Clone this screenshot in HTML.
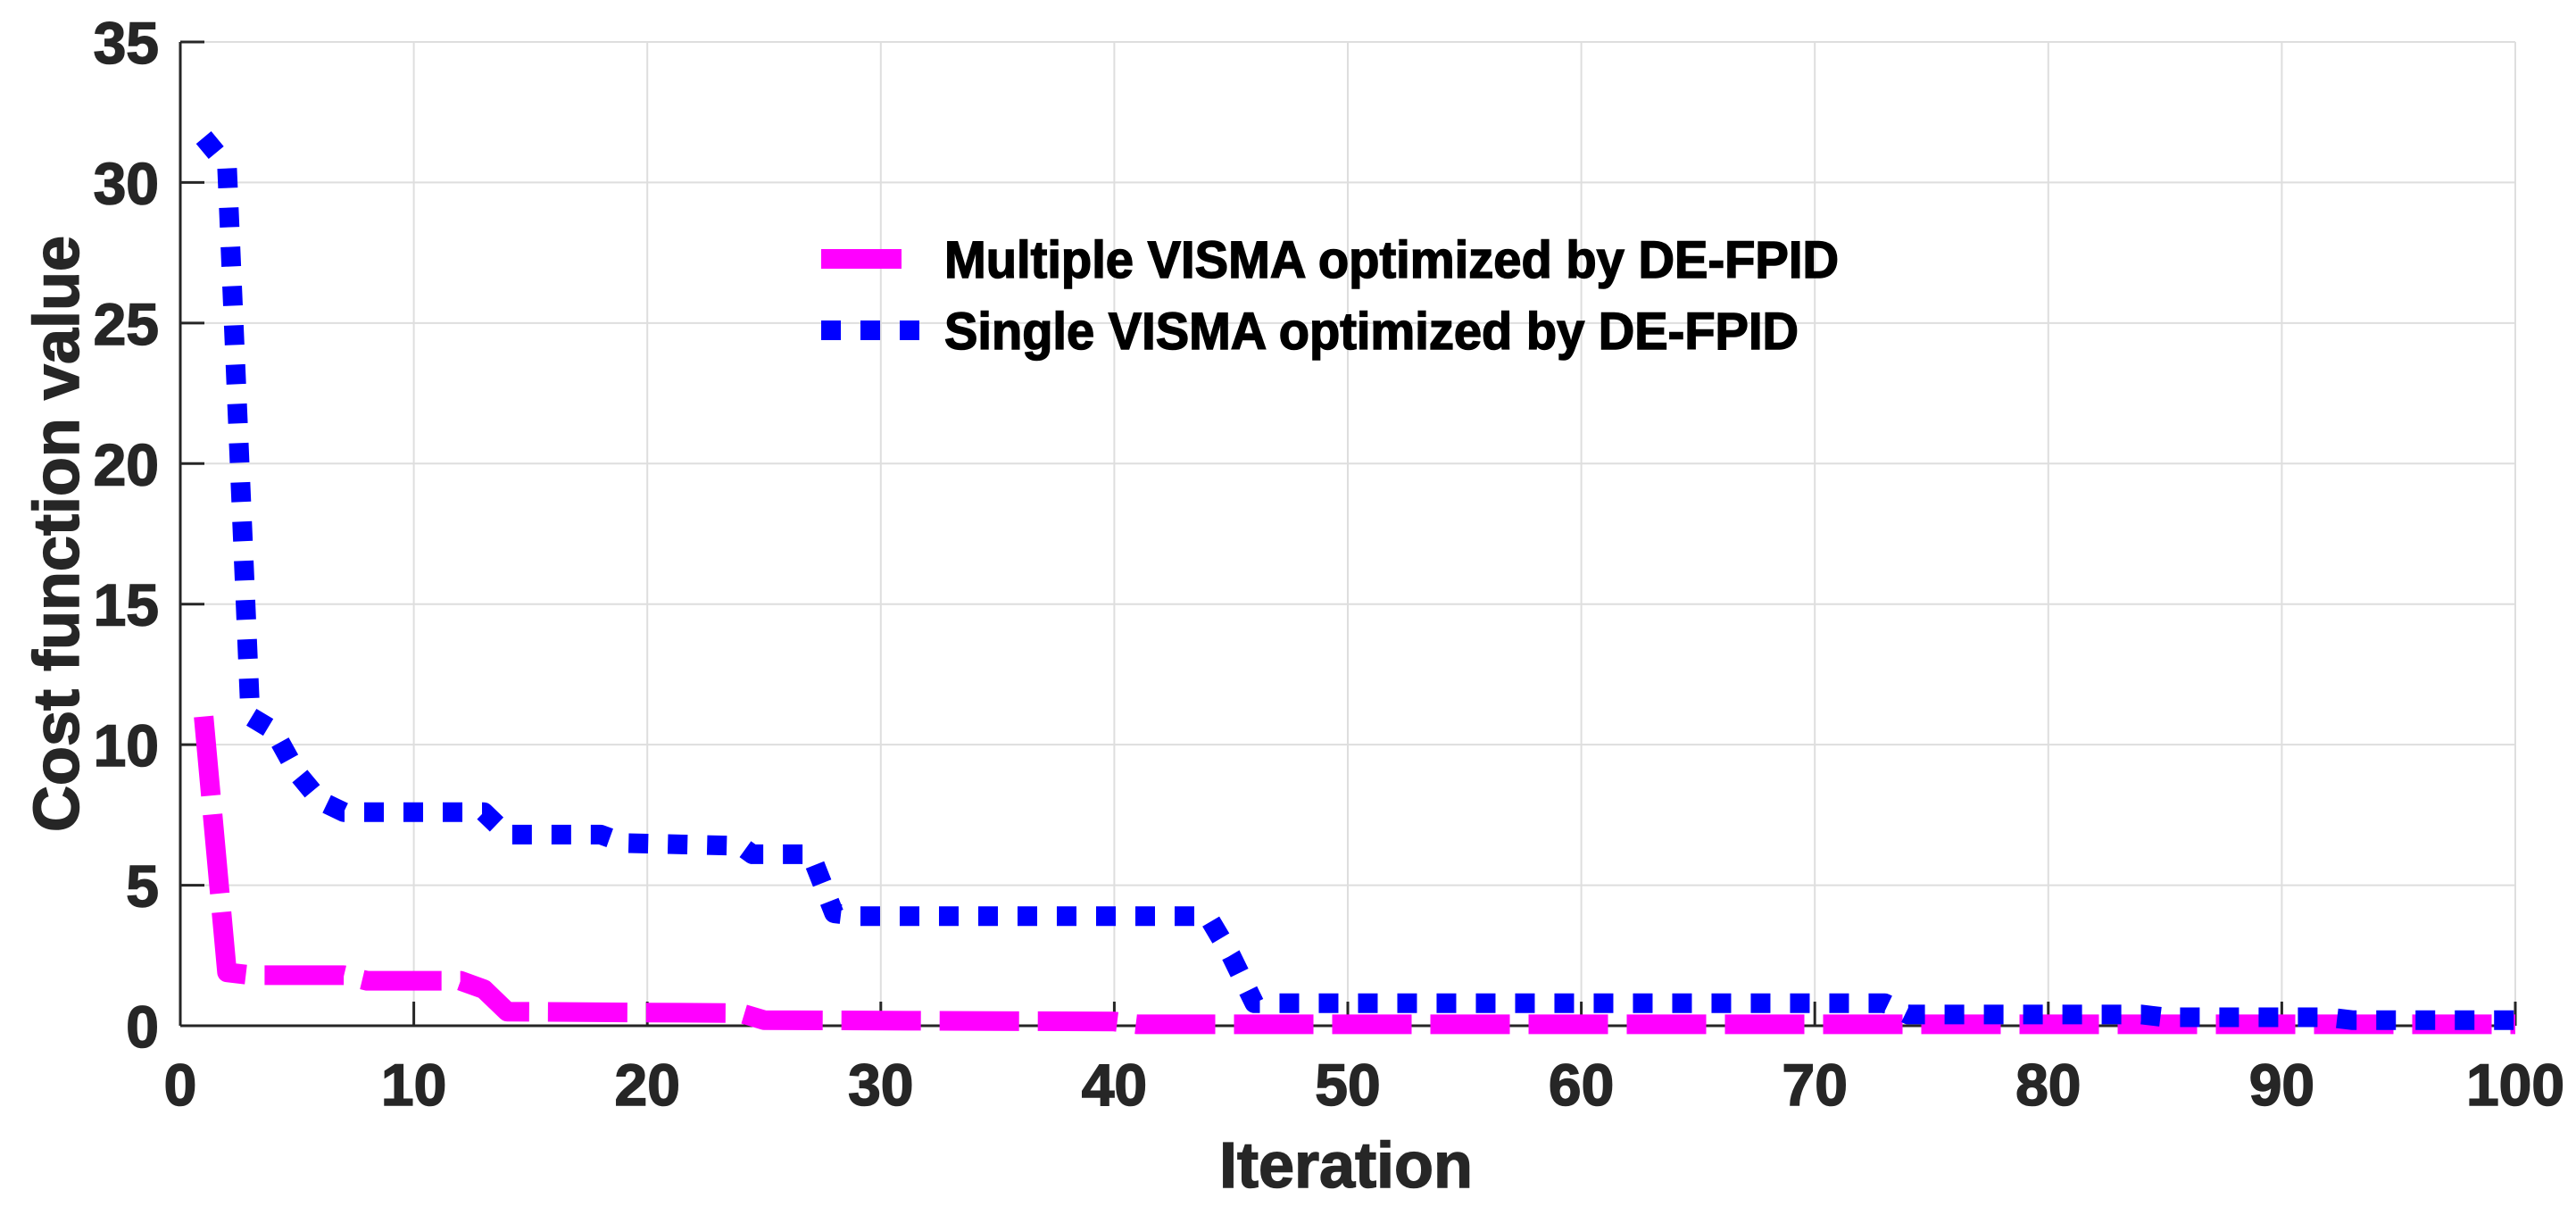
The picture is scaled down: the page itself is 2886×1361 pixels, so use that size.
<!DOCTYPE html>
<html><head><meta charset="utf-8">
<style>
html,body{margin:0;padding:0;background:#fff;}
svg{display:block;}
text{font-family:"Liberation Sans",Arial,sans-serif;font-weight:bold;fill:#262626;stroke:#262626;stroke-width:1.5;}
</style></head>
<body>
<svg id="chart" width="2886" height="1361" viewBox="0 0 2886 1361" xmlns="http://www.w3.org/2000/svg">
<g id="grid"></g>
<g id="axes"></g>
<g id="series"></g>
<text x="1508" y="1330" font-size="72" text-anchor="middle">Iteration</text>
<text x="0" y="0" font-size="72" text-anchor="middle" transform="translate(88,598) rotate(-90)">Cost function value</text>
<g>
  <line x1="920" y1="290" x2="1010" y2="290" stroke="#ff00ff" stroke-width="22"/>
  <text x="1058" y="311" font-size="58" textLength="1002" lengthAdjust="spacingAndGlyphs" style="fill:#000;stroke:#000">Multiple VISMA optimized by DE-FPID</text>
  <line x1="920" y1="370" x2="1032" y2="370" stroke="#0000ff" stroke-width="22" stroke-dasharray="22 22"/>
  <text x="1058" y="391" font-size="58" textLength="957" lengthAdjust="spacingAndGlyphs" style="fill:#000;stroke:#000">Single VISMA optimized by DE-FPID</text>
</g>
</svg>
<script>
const xTicks = [0,10,20,30,40,50,60,70,80,90,100];
const yTicks = [0,5,10,15,20,25,30,35];
const multipleX = [1,2,3,7,8,12,13,14,24,25,40,41,100];
const multipleY = [11,1.9,1.8,1.8,1.6,1.6,1.3,0.5,0.45,0.2,0.15,0.05,0.05];
const singleX = [1,2,3,4,5,6,7,13,14,18,19,24,24.5,27,28,29,44,45,46,73,74,84,85,92,93,100];
const singleY = [31.6,30.6,11,10.5,9,8,7.6,7.6,6.8,6.8,6.5,6.4,6.1,6.1,4,3.9,3.9,2.5,0.8,0.8,0.4,0.4,0.3,0.3,0.2,0.2];

const L=202,R=2818,T=47,B=1149;
const sx=v=>L+(v-0)/(100-0)*(R-L);
const sy=v=>B-(v-0)/(35-0)*(B-T);
const NS='http://www.w3.org/2000/svg';
function mk(tag,attrs,parent){const e=document.createElementNS(NS,tag);for(const k in attrs)e.setAttribute(k,attrs[k]);parent.appendChild(e);return e;}
const grid=document.getElementById('grid'),axes=document.getElementById('axes'),series=document.getElementById('series');
xTicks.forEach(t=>{
  const g=mk('line',{x1:sx(t),x2:sx(t),y1:T,y2:B,stroke:'#dedede','stroke-width':2},grid);
  
  
  const tk=mk('line',{x1:sx(t),x2:sx(t),y1:B,y2:B-27,stroke:'#262626','stroke-width':3},axes);
  
  
  const lb=mk('text',{x:sx(t),y:1238,'font-size':66,'text-anchor':'middle'},axes);
  lb.textContent=t;
  
  
});
yTicks.forEach(t=>{
  const g=mk('line',{x1:L,x2:R,y1:sy(t),y2:sy(t),stroke:'#dedede','stroke-width':2},grid);
  
  
  const tk=mk('line',{x1:L,x2:L+27,y1:sy(t),y2:sy(t),stroke:'#262626','stroke-width':3},axes);
  
  
  const lb=mk('text',{x:178,y:sy(t)+24,'font-size':66,'text-anchor':'end'},axes);
  lb.textContent=t;
  
  
});
const xa=mk('line',{x1:L,x2:R,y1:B,y2:B,stroke:'#262626','stroke-width':3},axes);


const ya=mk('line',{x1:L,x2:L,y1:T,y2:B,stroke:'#262626','stroke-width':3},axes);


function pts(xs,ys){return xs.map((x,i)=>sx(x)+','+sy(ys[i])).join(' ');}
const m=mk('polyline',{points:pts(multipleX,multipleY),fill:'none',stroke:'#ff00ff','stroke-width':22,'stroke-dasharray':'89 21','stroke-linejoin':'round'},series);


const s=mk('polyline',{points:pts(singleX,singleY),fill:'none',stroke:'#0000ff','stroke-width':22,'stroke-dasharray':'22 22','stroke-linejoin':'round'},series);


</script>
</body></html>
